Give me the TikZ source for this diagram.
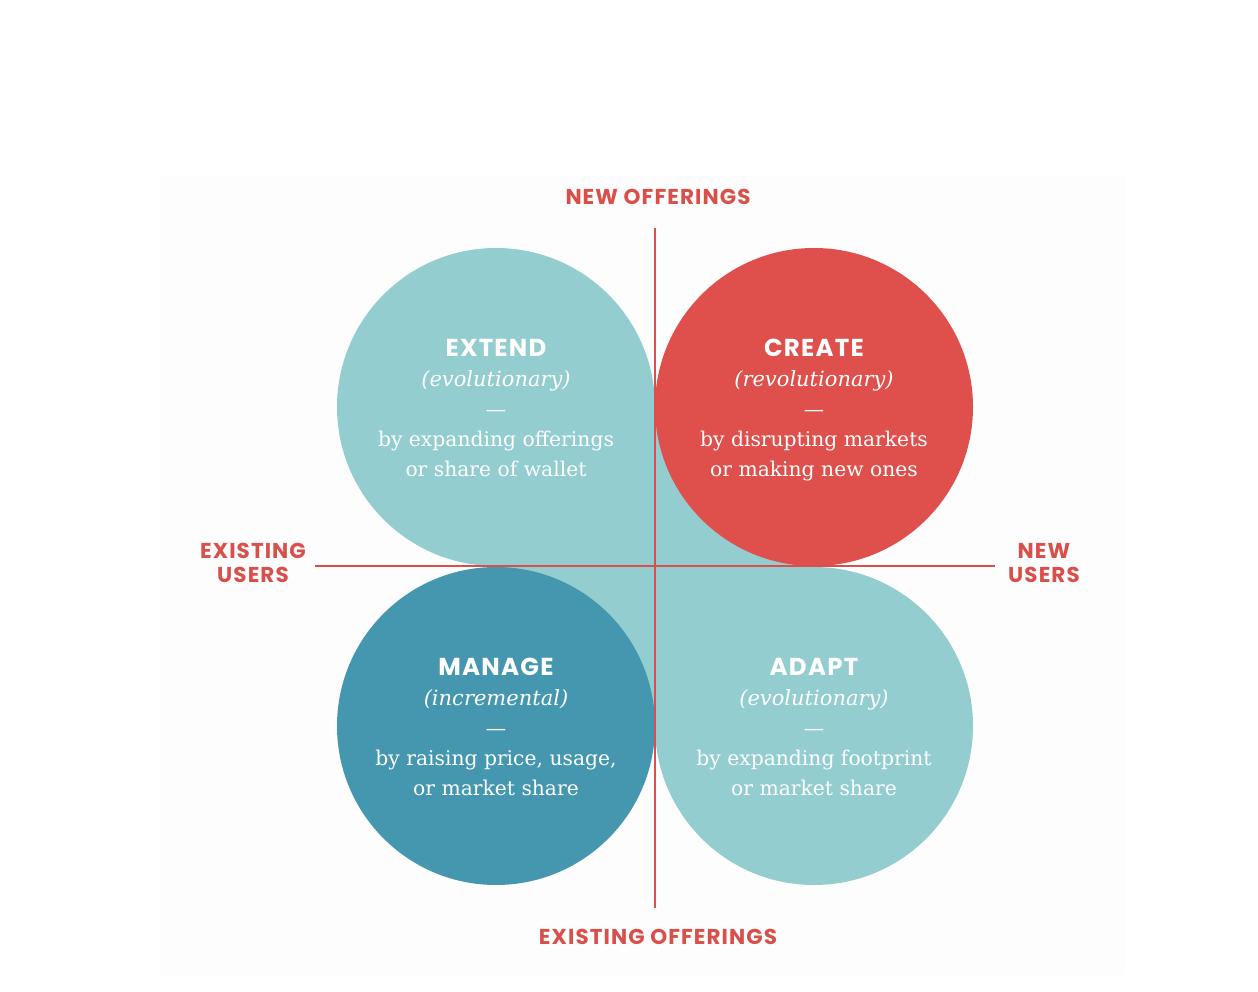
\documentclass[tikz,border=0pt]{standalone}
\usepackage{fontspec}
\setmainfont{DejaVu Serif}
\newfontfamily\capsfont[LetterSpace=5]{Poppins}
\usetikzlibrary{positioning,backgrounds}

\definecolor{teallight}{HTML}{93CDD0}
\definecolor{tealdark}{HTML}{4597B0}
\definecolor{createred}{HTML}{DF4F4B}
\definecolor{axisred}{HTML}{D9504A}

\newcommand{\quadtitle}[1]{{\fontsize{24.5}{30}\selectfont\capsfont\bfseries\rule{0pt}{27pt}#1}}
\newcommand{\quadkind}[1]{{\fontsize{21}{30}\selectfont\itshape #1}}

\begin{document}
\begin{tikzpicture}[
  x=1pt,y=-1pt,
  quad/.style={circle,minimum size=318pt,inner sep=0pt,align=center,text=white,
               font=\fontsize{20.3}{30}\selectfont},
  axislbl/.style={font=\fontsize{21.5}{24}\selectfont\capsfont\bfseries,text=axisred,
                  align=center,inner sep=0pt},
  axis/.style={draw=axisred,line width=1.8pt},
]
\useasboundingbox (0,0) rectangle (1258,992);

% ===== the four growth circles =====
\node[quad,fill=teallight] (extend) at (496,407)
  {\quadtitle{EXTEND}\\ \quadkind{(evolutionary)}\\ —\\ by expanding offerings\\ or share of wallet\strut};
\node[quad,fill=createred] (create) at (814,407)
  {\quadtitle{CREATE}\\ \quadkind{(revolutionary)}\\ —\\ by disrupting markets\\ or making new ones\strut};
\node[quad,fill=tealdark] (manage) at (496,726)
  {\quadtitle{MANAGE}\\ \quadkind{(incremental)}\\ —\\ by raising price, usage,\\ or market share\strut};
\node[quad,fill=teallight] (adapt) at (814,726)
  {\quadtitle{ADAPT}\\ \quadkind{(evolutionary)}\\ —\\ by expanding footprint\\ or market share\strut};

% teal joint behind the circles, faint panel
\begin{scope}[on background layer]
  \fill[black!0.8] (160,175) rectangle (1125,975);
  \fill[teallight] (extend.center) rectangle (adapt.center);
\end{scope}

% ===== axes =====
\coordinate (top) at (655,228);
\coordinate (bottom) at (655,908);
\coordinate (left) at (315,566);
\coordinate (right) at (995,566);
\draw[axis] (top) -- (bottom);
\draw[axis] (left) -- (right);

\node[axislbl] (newoff) at (658,197) {NEW OFFERINGS};
\node[axislbl] (exoff) at (658,937) {EXISTING OFFERINGS};
\node[axislbl] (exusers) at (253,563) {EXISTING\\USERS};
\node[axislbl] (newusers) at (1044,563) {NEW\\USERS};
\end{tikzpicture}
\end{document}
